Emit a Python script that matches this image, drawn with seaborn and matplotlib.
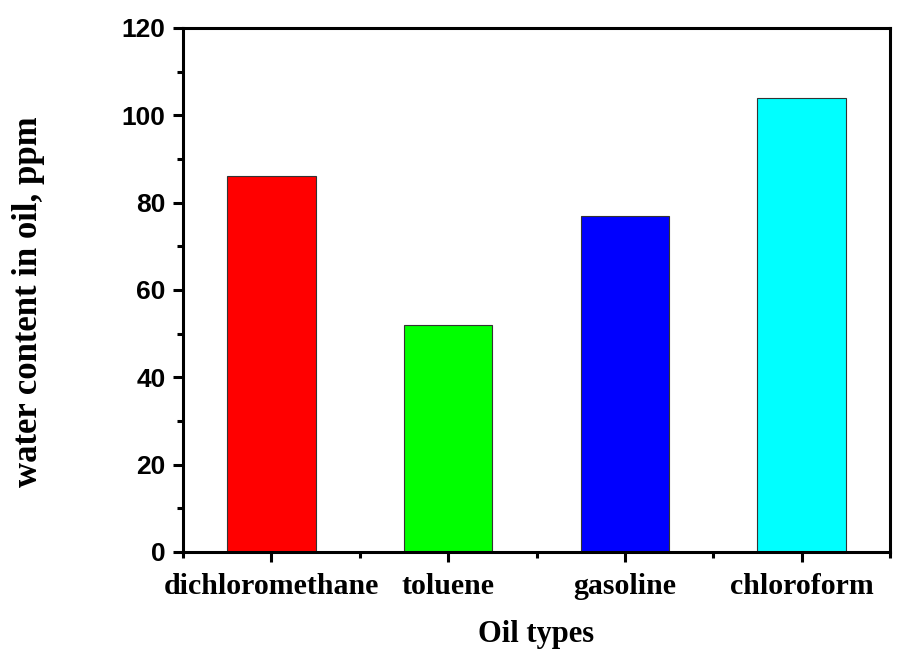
import numpy as np
import pandas as pd
import seaborn as sns
import matplotlib.pyplot as plt
from matplotlib.ticker import MultipleLocator, FixedLocator

# ==== Data ====
oil_types = ["dichloromethane", "toluene", "gasoline", "chloroform"]
water_ppm = [86, 52, 77, 104]
bar_colors = ["#ff0000", "#00ff00", "#0000ff", "#00ffff"]

df = pd.DataFrame({"oil": oil_types, "water": water_ppm})

# ==== Plot ====
sns.set_style("ticks")
plt.rcParams.update({"text.color": "black", "axes.labelcolor": "black",
                     "xtick.color": "black", "ytick.color": "black"})
fig = plt.figure(figsize=(9.07, 6.55), dpi=100)
ax = fig.add_axes([0.2018, 0.1573, 0.7795, 0.8000])

sns.barplot(data=df, x="oil", y="water", hue="oil", palette=bar_colors,
            width=0.5, edgecolor="#333333", linewidth=0.8, legend=False,
            saturation=1, ax=ax)

ax.set_xlim(-0.5, 3.5)
ax.set_ylim(0, 120)
ax.yaxis.set_major_locator(MultipleLocator(20))
ax.yaxis.set_minor_locator(MultipleLocator(10))
ax.xaxis.set_minor_locator(FixedLocator(np.arange(-0.5, 4.0, 1.0)))

for s in ax.spines.values():
    s.set_linewidth(2.2)
    s.set_color("black")
    s.set_visible(True)

ax.tick_params(axis="both", which="major", direction="out", length=7.5, width=2.2,
               top=False, right=False)
ax.tick_params(axis="both", which="minor", direction="out", length=4.5, width=2.2,
               top=False, right=False)

for lab in ax.get_yticklabels():
    lab.set_fontfamily("Liberation Sans")
    lab.set_fontweight("bold")
    lab.set_fontsize(19)
for lab in ax.get_xticklabels():
    lab.set_fontfamily("Liberation Serif")
    lab.set_fontweight("bold")
    lab.set_fontsize(21.5)
ax.tick_params(axis="x", pad=8)
ax.tick_params(axis="y", pad=5)

ax.set_xlabel("Oil types", fontfamily="Liberation Serif", fontweight="bold",
              fontsize=22, labelpad=14)
ax.set_ylabel("water content in oil, ppm", fontfamily="Liberation Serif",
              fontweight="bold", fontsize=25)
ax.yaxis.set_label_coords(-0.195, 0.477)

fig.savefig("out.png", dpi=100)
